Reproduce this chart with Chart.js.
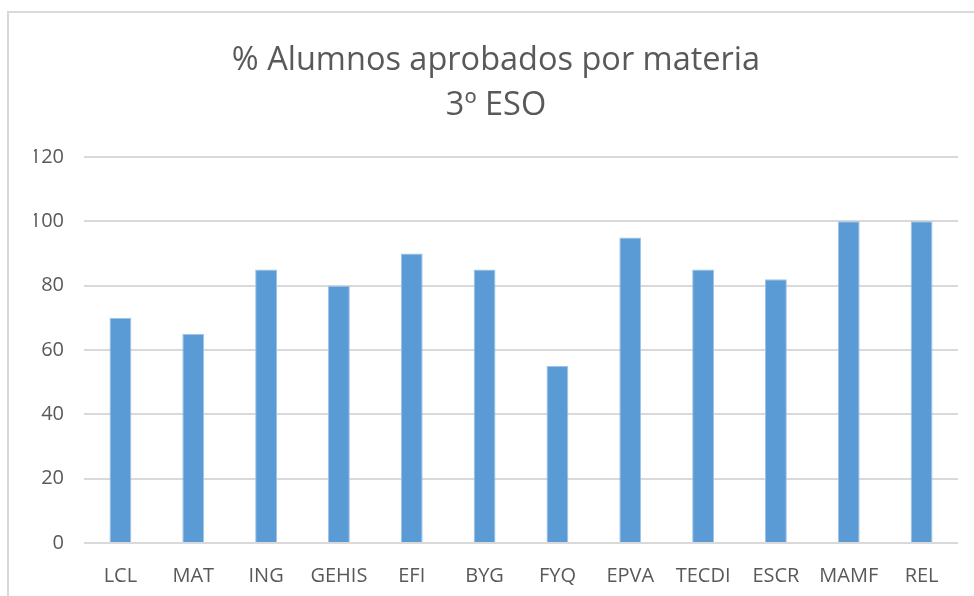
<!DOCTYPE html>
<html>
<head>
<meta charset="utf-8">
<script src="https://cdn.jsdelivr.net/npm/chart.js@4.4.1/dist/chart.umd.min.js"></script>
<style>
  html, body { margin: 0; padding: 0; background: #fff; overflow: hidden; }
  #wrap { position: absolute; left: 0; top: 0; width: 974px; height: 596px; }
  #frame { position: absolute; left: 7px; top: 11px; width: 1000px; height: 700px;
           border-left: 2px solid #d9d9d9; border-top: 2px solid #d9d9d9; }
</style>
</head>
<body>
<div id="frame"></div>
<div id="wrap"><canvas id="passChart" width="974" height="596"></canvas></div>
<script>
const subjects = ["LCL", "MAT", "ING", "GEHIS", "EFI", "BYG", "FYQ", "EPVA", "TECDI", "ESCR", "MAMF", "REL"];
const passed = [70, 65, 85, 80, 90, 85, 55, 95, 85, 82, 100, 100];
const titleLines = ["% Alumnos aprobados por materia", "3º ESO"];

const grey = "#595959";

new Chart("passChart", {
  type: "bar",
  data: {
    labels: subjects,
    datasets: [{
      data: passed,
      backgroundColor: "#5b9bd5",
      borderColor: "#9dc3e6",
      borderWidth: 1,
      barPercentage: 0.6,
      categoryPercentage: 0.5
    }]
  },
  options: {
    responsive: false,
    animation: false,
    // left padding shifts the title centre to match the original
    layout: { padding: { left: 34, right: 16, top: 0, bottom: 0 } },
    plugins: {
      legend: { display: false },
      tooltip: { enabled: false },
      title: {
        display: true,
        text: titleLines,
        color: grey,
        font: { family: "'Open Sans', sans-serif", size: 32.5, weight: "normal", lineHeight: 1.385 },
        padding: { top: 38, bottom: 29 }
      }
    },
    scales: {
      x: {
        grid: { display: false },
        border: { display: false },
        ticks: { color: grey, font: { family: "'Open Sans', sans-serif", size: 20 }, padding: 13 },
        afterFit(scale) { scale.height = 53; }
      },
      y: {
        min: 0,
        max: 120,
        ticks: { stepSize: 20, color: grey, font: { family: "'Open Sans', sans-serif", size: 20 }, padding: 20 },
        grid: { color: "#d9d9d9", lineWidth: 2, drawTicks: false },
        border: { display: false },
        afterFit(scale) { scale.width = 50; }
      }
    }
  }
});
</script>
</body>
</html>
